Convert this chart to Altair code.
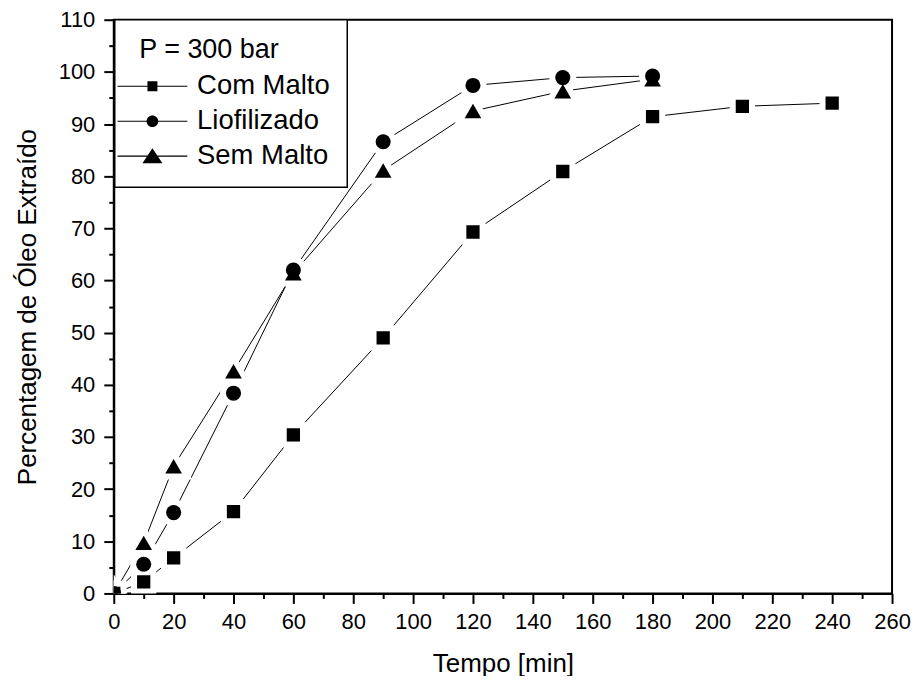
import altair as alt
import pandas as pd

FONT = "Liberation Sans"

series_names = ["Com Malto", "Liofilizado", "Sem Malto"]
t_com = [0, 10, 20, 40, 60, 90, 120, 150, 180, 210, 240]
y_com = [0, 2.2, 6.8, 15.7, 30.4, 49.0, 69.3, 80.9, 91.4, 93.4, 94.0]
t_lio = [0, 10, 20, 40, 60, 90, 120, 150, 180]
y_lio = [0, 5.6, 15.5, 38.4, 62.0, 86.6, 97.4, 98.9, 99.2]
t_sem = [0, 10, 20, 40, 60, 90, 120, 150, 180]
y_sem = [0, 9.7, 24.4, 42.6, 61.4, 81.1, 92.5, 96.3, 98.6]
x_ticks = list(range(0, 261, 10))
y_ticks = list(range(0, 111, 5))
legend_title = "\u2060\u00a0P = 300 bar"

rows = []
for name, ts, ys in zip(series_names, [t_com, t_lio, t_sem], [y_com, y_lio, y_sem]):
    for t, v in zip(ts, ys):
        rows.append({"serie": name, "tempo": t, "pct": v})
df = pd.DataFrame(rows)

common_axis = dict(
    grid=False, domainColor="black", domainWidth=2, tickColor="black", tickWidth=2,
    labelColor="black", titleColor="black", labelFont=FONT, titleFont=FONT,
    labelFontSize=22, titleFontSize=26, titleFontWeight="normal",
    labelOverlap=False, labelFlush=False,
)

x_axis = alt.Axis(
    values=x_ticks, title="Tempo [min]",
    labelExpr="datum.value % 20 === 0 ? datum.label : ''",
    tickSize={"condition": {"test": "datum.value % 20 === 0", "value": 10}, "value": 5},
    labelPadding=8, titlePadding=18, **common_axis,
)
y_axis = alt.Axis(
    values=y_ticks, title="Percentagem de Óleo Extraído",
    labelExpr="datum.value % 10 === 0 ? datum.label : ''",
    tickSize={"condition": {"test": "datum.value % 10 === 0", "value": 10}, "value": 5},
    labelPadding=9, titlePadding=18, **common_axis,
)

X = alt.X("tempo:Q", scale=alt.Scale(domain=[0, 260], nice=False, zero=False), axis=x_axis)
Y = alt.Y("pct:Q", scale=alt.Scale(domain=[0, 110], nice=False), axis=y_axis)

shape_scale = alt.Scale(domain=series_names, range=["square", "circle", "triangle-up"])
size_scale = alt.Scale(domain=series_names, range=[177, 279, 484])

legend_line = "M-7,-0.11H7V0.11H-7Z"
legend_paths = [
    legend_line + "M-1,-1H1V1H-1Z",
    legend_line + "M-1.17,0A1.17,1.17,0,1,1,1.17,0A1.17,1.17,0,1,1,-1.17,0Z",
    legend_line + "M0,-1.6L2,1.4L-2,1.4Z",
]

base = alt.Chart(df)

lines = base.mark_line(color="black", strokeWidth=1.0, clip=True).encode(
    x=X, y=Y, detail="serie:N", order="tempo:Q"
)

halo = base.mark_point(filled=True, fill="white", stroke="white", strokeWidth=12,
                       opacity=1, clip=True).encode(
    x=X, y=Y,
    shape=alt.Shape("serie:N", scale=shape_scale, legend=None),
    size=alt.Size("serie:N", scale=size_scale, legend=None),
)

points = base.mark_point(filled=True, color="black", opacity=1, clip=True).encode(
    x=X, y=Y,
    shape=alt.Shape("serie:N", scale=shape_scale, legend=None),
    size=alt.Size("serie:N", scale=size_scale, legend=None),
)

legend_layer = base.transform_filter("datum.tempo < 0").mark_point(
    filled=True, color="black", size=100
).encode(
    x=X, y=Y,
    shape=alt.Shape(
        "serie:N",
        scale=alt.Scale(domain=series_names, range=legend_paths),
        legend=alt.Legend(
            title=legend_title, orient="none", legendX=1, legendY=0,
            padding=17, strokeColor="black", fillColor="white",
            titleFont=FONT, titleFontSize=27, titleFontWeight="normal", titleColor="black",
            titlePadding=9, labelFont=FONT, labelFontSize=27.5, labelColor="black",
            rowPadding=6, symbolOffset=7, labelOffset=31,
            symbolOpacity=1, symbolFillColor="black",
            symbolSize=100,
        ),
    ),
)

chart = alt.layer(lines, halo, points, legend_layer).resolve_scale(
    shape="independent"
).properties(
    width=780, height=575,
    autosize=alt.AutoSizeParams(type="none"),
    padding={"left": 106, "top": 11, "right": 19, "bottom": 82},
).configure_view(
    stroke="black", strokeWidth=2
).configure_legend(
    strokeWidth=1.5, cornerRadius=0
)

chart.save("out.html", embed_options={"renderer": "svg", "actions": False})
